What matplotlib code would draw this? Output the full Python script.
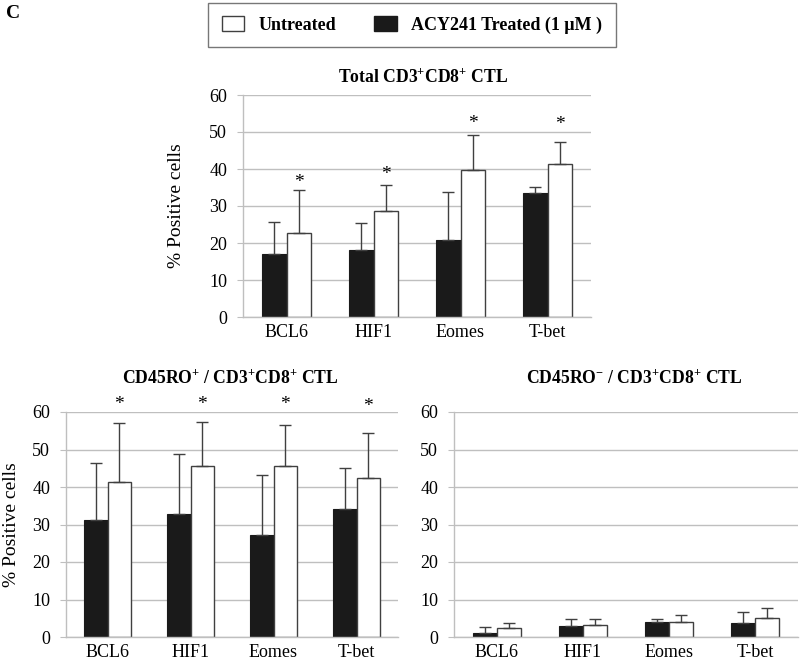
import numpy as np
import matplotlib.pyplot as plt
from matplotlib.patches import Patch

plt.rcParams['font.family'] = ['Liberation Serif', 'DejaVu Serif']
plt.rcParams['mathtext.fontset'] = 'custom'
plt.rcParams['mathtext.rm'] = 'Liberation Serif'
plt.rcParams['mathtext.bf'] = 'Liberation Serif:bold'
plt.rcParams['mathtext.default'] = 'bf'

genes = ['BCL6', 'HIF1', 'Eomes', 'T-bet']

# Total CD3+CD8+ CTL
total_treated = [17.0, 18.0, 20.7, 33.6]
total_treated_err = [8.8, 7.4, 13.0, 1.5]
total_untreated = [22.6, 28.6, 39.7, 41.3]
total_untreated_err = [11.6, 7.2, 9.6, 6.1]
total_star = [36.3, 38.4, 52.4, 51.9]

# CD45RO+ / CD3+CD8+ CTL
pos_treated = [31.1, 32.8, 27.2, 34.1]
pos_treated_err = [15.3, 15.9, 16.0, 11.0]
pos_untreated = [41.3, 45.6, 45.6, 42.3]
pos_untreated_err = [15.7, 11.8, 10.9, 12.2]
pos_star = [61.9, 61.9, 61.9, 61.4]

# CD45RO- / CD3+CD8+ CTL
neg_treated = [1.2, 3.0, 4.0, 3.8]
neg_treated_err = [1.4, 1.9, 0.8, 2.8]
neg_untreated = [2.3, 3.1, 4.1, 5.0]
neg_untreated_err = [1.4, 1.7, 1.9, 2.8]

grid_col = '#bfbfbf'
edge_col = '#404040'
bar_w = 0.28


def draw_panel(ax, treated, t_err, untreated, u_err, stars, title, title_xy, ylabel_x):
    x = np.arange(len(genes))
    ax.set_axisbelow(True)
    ax.yaxis.grid(True, color=grid_col, linewidth=1.0)
    ax.bar(x - bar_w / 2, treated, bar_w, color='#1a1a1a', edgecolor='#1a1a1a',
           linewidth=0.8, yerr=[np.zeros(len(x)), t_err], capsize=4,
           error_kw=dict(ecolor=edge_col, elinewidth=1.0, capthick=1.0))
    ax.bar(x + bar_w / 2, untreated, bar_w, color='white', edgecolor=edge_col,
           linewidth=1.0, yerr=[np.zeros(len(x)), u_err], capsize=4,
           error_kw=dict(ecolor=edge_col, elinewidth=1.0, capthick=1.0))
    if stars is not None:
        for xi, s in zip(x, stars):
            ax.text(xi + bar_w / 2, s, '*', ha='center', va='center', fontsize=14,
                    clip_on=False)
    ax.set_xlim(-0.5, len(genes) - 0.5)
    ax.set_ylim(0, 60)
    ax.set_yticks(range(0, 61, 10))
    ax.set_xticks(x)
    ax.set_xticklabels(genes, fontsize=13)
    ax.tick_params(axis='y', labelsize=13, length=4.5, color=grid_col, pad=7)
    ax.tick_params(axis='x', length=0, pad=5)
    for s in ['top', 'right']:
        ax.spines[s].set_visible(False)
    for s in ['left', 'bottom']:
        ax.spines[s].set_color(grid_col)
        ax.spines[s].set_linewidth(1.0)
    if ylabel_x is not None:
        ax.set_ylabel('% Positive cells', fontsize=14)
        ax.yaxis.set_label_coords(ylabel_x, 0.5)
    fig.text(title_xy[0] / 800, 1 - title_xy[1] / 662, title, ha='center', va='center',
             fontsize=12.7, fontweight='bold')


fig = plt.figure(figsize=(8, 6.62), dpi=100)

ax1 = fig.add_axes([243 / 800, 1 - 317 / 662, 348 / 800, 222 / 662])
ax2 = fig.add_axes([66 / 800, 1 - 637 / 662, 332 / 800, 225 / 662])
ax3 = fig.add_axes([454 / 800, 1 - 637 / 662, 344 / 800, 225 / 662])

draw_panel(ax1, total_treated, total_treated_err, total_untreated, total_untreated_err,
           total_star, r'Total CD3$^{+}$CD8$^{+}$ CTL', (423, 77), -0.167)
draw_panel(ax2, pos_treated, pos_treated_err, pos_untreated, pos_untreated_err,
           pos_star, r'CD45RO$^{+}$ / CD3$^{+}$CD8$^{+}$ CTL', (230, 378), -0.139)
draw_panel(ax3, neg_treated, neg_treated_err, neg_untreated, neg_untreated_err,
           None, r'CD45RO$^{-}$ / CD3$^{+}$CD8$^{+}$ CTL', (634, 378), None)

fig.text(6 / 800, 1 - 14 / 662, 'C', ha='left', va='center', fontsize=14, fontweight='bold')

handles = [Patch(facecolor='white', edgecolor=edge_col, linewidth=1.0, label='Untreated'),
           Patch(facecolor='#1a1a1a', edgecolor='#1a1a1a', label='ACY241 Treated (1 \u03bcM )')]
leg = fig.legend(handles=handles, loc='center', bbox_to_anchor=(412 / 800, 1 - 25 / 662),
                 ncol=2, frameon=True, fancybox=False, edgecolor='#555555',
                 prop={'size': 13, 'weight': 'bold'}, handlelength=1.25, handleheight=0.9,
                 columnspacing=2.1, borderpad=0.75, borderaxespad=0, handletextpad=0.8)
leg.get_frame().set_linewidth(1.0)

fig.savefig('out.png', dpi=100)
